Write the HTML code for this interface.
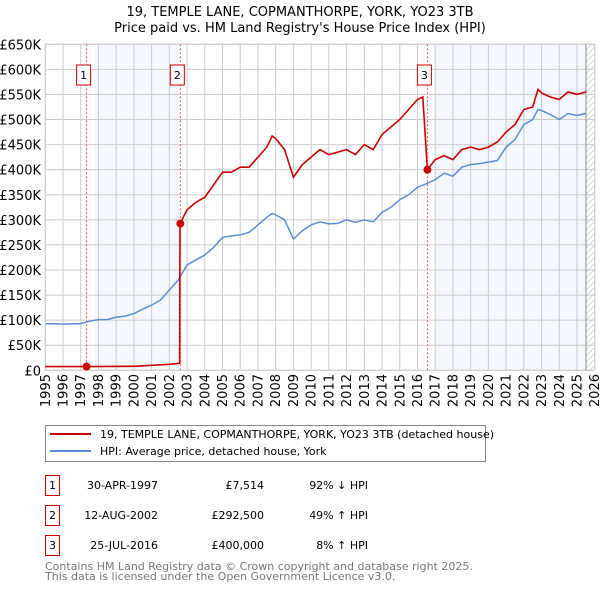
<!DOCTYPE html>
<html><head><meta charset="utf-8"><style>
body{margin:0;background:#fff;}
svg{display:block;font-family:"DejaVu Sans","Liberation Sans",sans-serif;}
</style></head><body>
<svg id="c" width="600" height="590"></svg>
<script>
const hpiYears=[1995,1996,1997,1997.5,1998,1998.5,1999,1999.5,2000,2000.5,2001,2001.5,2002,2002.5,2003,2003.5,2004,2004.5,2005,2005.5,2006,2006.5,2007,2007.5,2007.8,2008,2008.5,2009,2009.5,2010,2010.5,2011,2011.5,2012,2012.5,2013,2013.5,2014,2014.5,2015,2015.5,2016,2016.5,2017,2017.5,2018,2018.5,2019,2019.5,2020,2020.5,2021,2021.5,2022,2022.5,2022.8,2023,2023.5,2024,2024.5,2025,2025.5];
const hpiValues=[93,92,93,98,101,101,106,108,113,122,130,140,160,180,210,220,230,245,265,268,270,275,290,305,313,310,300,262,278,290,296,292,293,300,295,300,296,315,325,340,350,365,372,380,393,387,405,410,412,415,418,445,460,490,500,520,518,510,500,512,508,512];
const propYears=[1995,1997.33,2000,2001,2002,2002.58,2002.6,2003,2003.5,2004,2004.5,2005,2005.5,2006,2006.5,2007,2007.5,2007.8,2008,2008.5,2009,2009.5,2010,2010.5,2011,2011.5,2012,2012.5,2013,2013.5,2014,2014.5,2015,2015.5,2016,2016.3,2016.56,2017,2017.5,2018,2018.5,2019,2019.5,2020,2020.5,2021,2021.5,2022,2022.5,2022.8,2023,2023.5,2024,2024.5,2025,2025.5];
const propValues=[7.5,7.5,8,10,12,14,292.5,320,335,345,370,395,395,405,405,425,445,467,462,440,385,410,425,440,430,435,440,430,450,440,470,485,500,520,540,545,400,420,428,420,440,445,440,445,455,475,490,520,525,560,553,545,540,555,550,555];
const saleYears=[1997.33,2002.62,2016.56];
const salePrices=[7.514,292.5,400];
const saleLabels=["1","2","3"];
const yTicks=[0,50,100,150,200,250,300,350,400,450,500,550,600,650];
const yTickLabels=["£0","£50K","£100K","£150K","£200K","£250K","£300K","£350K","£400K","£450K","£500K","£550K","£600K","£650K"];
const xTicks=[1995,1996,1997,1998,1999,2000,2001,2002,2003,2004,2005,2006,2007,2008,2009,2010,2011,2012,2013,2014,2015,2016,2017,2018,2019,2020,2021,2022,2023,2024,2025,2026];

const L=45.3,R=594.7,T=44.3,B=370.3;
const X=y=>L+(y-1995)/31*(R-L);
const Y=v=>B-v/650*(B-T);
const NS="http://www.w3.org/2000/svg";
const svg=document.getElementById('c');
function mk(tag,attrs,parent){const e=document.createElementNS(NS,tag);for(const k in attrs)e.setAttribute(k,attrs[k]);(parent||svg).appendChild(e);return e;}
function txt(s,attrs){const e=mk('text',attrs);e.textContent=s;return e;}

let t=txt("19, TEMPLE LANE, COPMANTHORPE, YORK, YO23 3TB",{x:300,y:16,'text-anchor':'middle','font-size':13,fill:'#000'});


t=txt("Price paid vs. HM Land Registry's House Price Index (HPI)",{x:300,y:32,'text-anchor':'middle','font-size':13,fill:'#000'});



let s=mk('rect',{x:95,y:T,width:179-95,height:B-T,fill:'#f4f7fd'});


s=mk('rect',{x:435,y:T,width:586-435,height:B-T,fill:'#f4f7fd'});


const defs=mk('defs',{});
const pat=mk('pattern',{id:'h',width:6,height:6,patternUnits:'userSpaceOnUse'},defs);
mk('path',{d:'M0,6 L6,0',stroke:'#ccc','stroke-width':0.8},pat);
s=mk('rect',{x:586,y:T,width:R-586,height:B-T,fill:'url(#h)'});



yTicks.forEach((v,i)=>{
  const g=mk('line',{x1:L,x2:R,y1:Y(v),y2:Y(v),stroke:'#ccc','stroke-width':1});
  
  
  const l=txt(yTickLabels[i],{x:41,y:Y(v)+5,'text-anchor':'end','font-size':13,fill:'#000'});
  
  
});
xTicks.forEach(yr=>{
  const g=mk('line',{x1:X(yr),x2:X(yr),y1:T,y2:B,stroke:'#ccc','stroke-width':1});
  
  
  const l=txt(String(yr),{x:0,y:0,'text-anchor':'end','font-size':13,fill:'#000',transform:`translate(${X(yr)+4.5},374) rotate(-90)`});
  
  
});
let ax=mk('rect',{x:L,y:T,width:R-L,height:B-T,fill:'none',stroke:'#ccc'});


ax=mk('line',{x1:586,x2:586,y1:T,y2:B,stroke:'#888','stroke-width':1});



saleYears.forEach((yr,i)=>{
  const d=mk('line',{x1:X(yr),x2:X(yr),y1:T,y2:B,stroke:'#e55','stroke-width':1,'stroke-dasharray':'2,2'});
  
  
});

let p=mk('polyline',{points:hpiYears.map((y,i)=>X(y)+','+Y(hpiValues[i])).join(' '),fill:'none',stroke:'#5b8fd4','stroke-width':1.5});


p=mk('polyline',{points:propYears.map((y,i)=>X(y)+','+Y(propValues[i])).join(' '),fill:'none',stroke:'#cc0000','stroke-width':1.6});



saleYears.forEach((yr,i)=>{
  const c=mk('circle',{cx:X(yr),cy:Y(salePrices[i]),r:4,fill:'#cc0000'});
  
  
  const bx=X(yr)-3-7;
  const r=mk('rect',{x:bx,y:65,width:14,height:20,fill:'#fff',stroke:'#c00'});
  
  
  const l=txt(saleLabels[i],{x:bx+7,y:79,'text-anchor':'middle','font-size':11,fill:'#000'});
  
  
});

const lg=mk('g',{});


mk('rect',{x:45.5,y:425.5,width:440,height:36,fill:'#fff',stroke:'#888'},lg);
mk('line',{x1:50,x2:91,y1:434,y2:434,stroke:'#cc0000','stroke-width':2},lg);
mk('line',{x1:50,x2:91,y1:451,y2:451,stroke:'#5b8fd4','stroke-width':2},lg);
let e=mk('text',{x:100,y:438,'font-size':11,fill:'#000'},lg);e.textContent="19, TEMPLE LANE, COPMANTHORPE, YORK, YO23 3TB (detached house)";


e=mk('text',{x:100,y:455,'font-size':11,fill:'#000'},lg);e.textContent="HPI: Average price, detached house, York";



const tDates=["30-APR-1997","12-AUG-2002","25-JUL-2016"];
const tPrices=["£7,514","£292,500","£400,000"];
const tPct=["92% ↓ HPI","49% ↑ HPI","8% ↑ HPI"];
for(let i=0;i<3;i++){
  const y0=475+i*30;
  const r=mk('rect',{x:45.5,y:y0+0.5,width:14,height:20,fill:'#fff',stroke:'#c00'});
  
  
  let a=txt(String(i+1),{x:52.5,y:y0+14,'text-anchor':'middle','font-size':11,fill:'#000'});
  
  
  a=txt(tDates[i],{x:158,y:y0+14,'text-anchor':'end','font-size':11,fill:'#000'});
  
  
  a=txt(tPrices[i],{x:264,y:y0+14,'text-anchor':'end','font-size':11,fill:'#000'});
  
  
  a=txt(tPct[i],{x:368,y:y0+14,'text-anchor':'end','font-size':11,fill:'#000'});
  
  
}
let f=txt("Contains HM Land Registry data © Crown copyright and database right 2025.",{x:45,y:570,'font-size':11,fill:'#777'});


f=txt("This data is licensed under the Open Government Licence v3.0.",{x:45,y:580,'font-size':11,fill:'#777'});


</script>
</body></html>
